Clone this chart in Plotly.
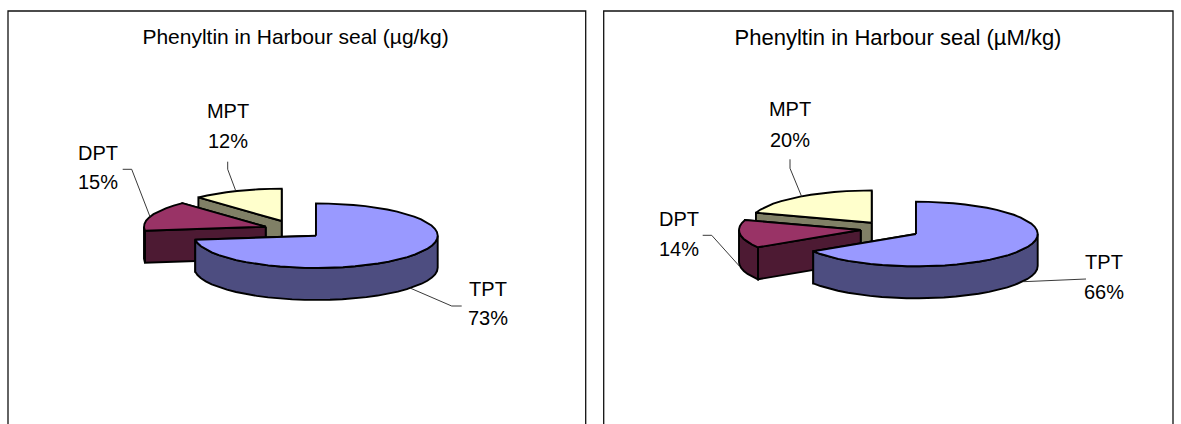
import math
import plotly.graph_objects as go

# Share of each phenyltin compound, in percent, clockwise from 12 o'clock
categories = ["TPT", "DPT", "MPT"]
shares_ug_kg = [73, 15, 12]
shares_um_kg = [66, 14, 20]
titles = ["Phenyltin in Harbour seal (µg/kg)", "Phenyltin in Harbour seal (µM/kg)"]

# Colours per compound: top surface, side wall
TOP = {"TPT": "#9999FF", "DPT": "#993366", "MPT": "#FFFFCC"}
SIDE = {"TPT": "#4D4D80", "DPT": "#4D1A33", "MPT": "#808066"}

# Projection of the tilted pie, in pixels
RX, RY, DEPTH = 121.7, 32.3, 32
FONT = "Liberation Sans"
LABEL_SIZE = 20
EDGE = dict(color="black", width=1.9)

# Panel layout: frame, title centre and size, apex of each exploded slice, label anchors, leader paths
panels = [
    dict(
        frame=(8, 11, 585.7, 440), title_xy=(295.5, 39), title_size=21,
        apex={"TPT": (316, 235.7), "DPT": (265.7, 226.7), "MPT": (281.7, 221)},
        label={"TPT": (488, 291, 320), "DPT": (98, 154.7, 184.3), "MPT": (228, 112.7, 142.7)},
        leader={
            "TPT": [(410, 288), (451.7, 306), (461.7, 306)],
            "DPT": [(150, 216.7), (131.7, 169.3), (122.7, 169.3)],
            "MPT": [(235.7, 190.7), (227.7, 169.3), (227.7, 161.7)],
        },
    ),
    dict(
        frame=(603.7, 11, 1173, 440), title_xy=(898, 39), title_size=22,
        apex={"TPT": (916, 234), "DPT": (860.7, 230), "MPT": (871.7, 222.7)},
        label={"TPT": (1104, 264, 294), "DPT": (679, 221, 251), "MPT": (790, 111, 142)},
        leader={
            "TPT": [(1023.3, 281.7), (1078.3, 279), (1086, 279)],
            "DPT": [(739.3, 266), (711.7, 235.3), (702.7, 235.3)],
            "MPT": [(801.7, 196.7), (790, 168.3), (790, 159.3)],
        },
    ),
]


def rim_point(apex, angle):
    """Project a clockwise angle from 12 o'clock onto the slice's top ellipse."""
    a = math.radians(angle)
    return apex[0] + RX * math.sin(a), apex[1] - RY * math.cos(a)


def arc(start, end, step=6.0):
    n = max(1, int(math.ceil((end - start) / step)))
    return [start + (end - start) * i / n for i in range(n + 1)]


fig = go.Figure()


def polygon(points, fill):
    xs = [p[0] for p in points] + [points[0][0]]
    ys = [p[1] for p in points] + [points[0][1]]
    fig.add_trace(go.Scatter(x=xs, y=ys, mode="lines", fill="toself", fillcolor=fill,
                             line=EDGE, hoverinfo="skip", showlegend=False))


def down(p):
    return p[0], p[1] + DEPTH


def draw_slice(apex, start, end, top, side):
    s, e = rim_point(apex, start), rim_point(apex, end)
    # cut faces first, then the outer wall, then the top surface over them
    polygon([apex, e, down(e), down(apex)], side)
    polygon([apex, s, down(s), down(apex)], side)
    lo, hi = max(start, 90), min(end, 270)
    if hi > lo:
        wall = [rim_point(apex, t) for t in arc(lo, hi)]
        polygon(wall + [down(p) for p in reversed(wall)], side)
    surface = [rim_point(apex, t) for t in arc(start, end)]
    polygon([apex] + surface, top)


for panel, shares, title in zip(panels, (shares_ug_kg, shares_um_kg), titles):
    spans, angle = {}, 0.0
    for name, share in zip(categories, shares):
        spans[name] = (angle, angle + share * 3.6)
        angle += share * 3.6

    x0, y0, x1, y1 = panel["frame"]
    fig.add_shape(type="rect", x0=x0, y0=y0, x1=x1, y1=y1, xref="x", yref="y",
                  line=dict(color="#111111", width=1.3), fillcolor="white", layer="below")

    # Rear slices are painted before the front one
    for name in reversed(categories):
        start, end = spans[name]
        draw_slice(panel["apex"][name], start, end, TOP[name], SIDE[name])

    for name, share in zip(categories, shares):
        path = panel["leader"][name]
        fig.add_trace(go.Scatter(x=[p[0] for p in path], y=[p[1] for p in path], mode="lines",
                                 line=dict(color="#222222", width=0.9),
                                 hoverinfo="skip", showlegend=False))
        lx, ly1, ly2 = panel["label"][name]
        fig.add_trace(go.Scatter(x=[lx, lx], y=[ly1, ly2], mode="text",
                                 text=[name, f"{share}%"], textposition="middle center",
                                 textfont=dict(family=FONT, size=LABEL_SIZE, color="black"),
                                 hoverinfo="skip", showlegend=False))

    fig.add_trace(go.Scatter(x=[panel["title_xy"][0]], y=[panel["title_xy"][1]], mode="text",
                             text=[title], textposition="middle center",
                             textfont=dict(family=FONT, size=panel["title_size"], color="black"),
                             hoverinfo="skip", showlegend=False))

fig.update_layout(
    width=1181, height=424, margin=dict(l=0, r=0, t=0, b=0),
    paper_bgcolor="white", plot_bgcolor="white", showlegend=False,
    xaxis=dict(range=[0, 1181], visible=False, fixedrange=True),
    yaxis=dict(range=[424, 0], visible=False, fixedrange=True),
)
fig.write_html("out.html", config={"displayModeBar": False})
